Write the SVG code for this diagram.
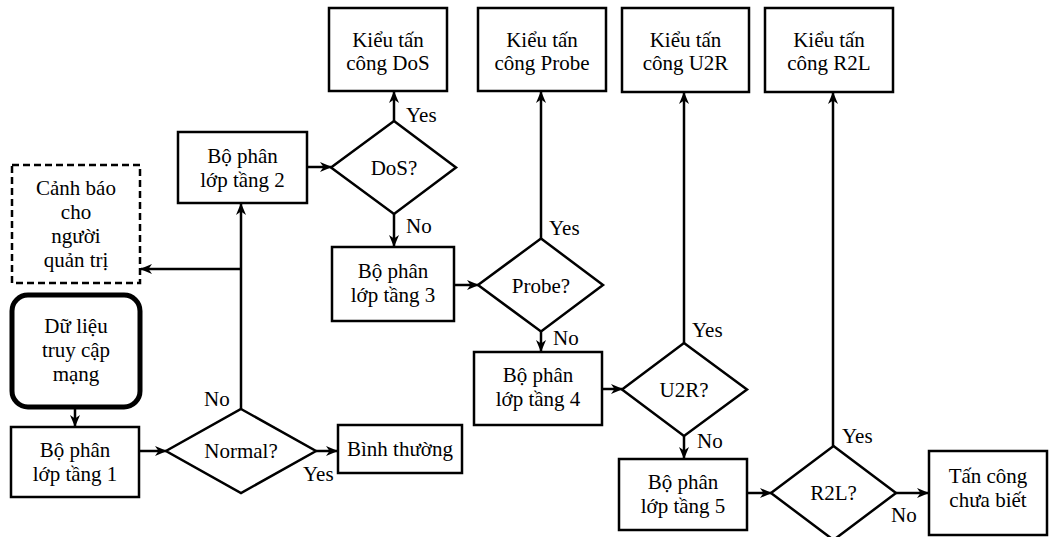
<svg xmlns="http://www.w3.org/2000/svg" width="1049" height="537" viewBox="0 0 1049 537">
<style>
text{font-size:21px;fill:#000}
.c{text-anchor:middle}
.box{fill:#fff;stroke:#000;stroke-width:2.5}
.dash{fill:#fff;stroke:#000;stroke-width:2.5;stroke-dasharray:7,4}
.start{fill:#fff;stroke:#000;stroke-width:5}
.dia{fill:#fff;stroke:#000;stroke-width:2.5;stroke-linejoin:miter}
.ln{fill:none;stroke:#000;stroke-width:2.5}
.arr{marker-end:url(#ah)}
</style>
<defs>
<marker id="ah" markerWidth="12" markerHeight="10" refX="11" refY="5" orient="auto" markerUnits="userSpaceOnUse">
<path d="M0,0 L12,5 L0,10 L3.5,5 Z" fill="#000"/>
</marker>
</defs>
<rect width="1049" height="537" fill="#fff"/>
<g font-family="Liberation Serif, DejaVu Serif, serif">
<g id="connectors">
<path class="ln arr" d="M75,408 L75,426"/>
<path class="ln arr" d="M139,451 L166,451"/>
<path class="ln arr" d="M241,409 L241,204"/>
<path class="ln arr" d="M241,269 L141,269"/>
<path class="ln arr" d="M316,451 L337,451"/>
<path class="ln arr" d="M307,167 L331,167"/>
<path class="ln arr" d="M394,121 L394,92"/>
<path class="ln arr" d="M394,214 L394,246"/>
<path class="ln arr" d="M454,285 L478,285"/>
<path class="ln arr" d="M541,239 L541,92"/>
<path class="ln arr" d="M541,331 L541,351"/>
<path class="ln arr" d="M602,389 L622,389"/>
<path class="ln arr" d="M684,343 L684,93"/>
<path class="ln arr" d="M684,436 L684,458"/>
<path class="ln arr" d="M747,493 L771,493"/>
<path class="ln arr" d="M833,446 L833,93"/>
<path class="ln arr" d="M896,493 L928,493"/>
<text x="204" y="406">No</text>
<text x="303" y="481">Yes</text>
<text x="406" y="122">Yes</text>
<text x="406" y="233">No</text>
<text x="549" y="235">Yes</text>
<text x="553" y="345">No</text>
<text x="692" y="337">Yes</text>
<text x="697" y="448">No</text>
<text x="842" y="443">Yes</text>
<text x="891" y="522">No</text>
</g>
<g id="alert">
<rect class="dash" x="12" y="165" width="128" height="118"/>
<text class="c" x="76" y="195">Cảnh báo</text>
<text class="c" x="76" y="219">cho</text>
<text class="c" x="76" y="243">người</text>
<text class="c" x="76" y="267">quản trị</text>
</g>
<g id="data">
<rect class="start" x="12" y="295" width="128" height="112" rx="16"/>
<text class="c" x="76" y="333">Dữ liệu</text>
<text class="c" x="76" y="357">truy cập</text>
<text class="c" x="76" y="381">mạng</text>
</g>
<g id="clf1">
<rect class="box" x="11" y="427" width="128" height="70"/>
<text class="c" x="75" y="457">Bộ phân</text>
<text class="c" x="75" y="481">lớp tầng 1</text>
</g>
<g id="normal">
<polygon class="dia" points="241,409 316,451 241,493 166,451"/>
<text class="c" x="241" y="458">Normal?</text>
</g>
<g id="binhthuong">
<rect class="box" x="338" y="425" width="124" height="48"/>
<text class="c" x="400" y="456">Bình thường</text>
</g>
<g id="clf2">
<rect class="box" x="178" y="132" width="129" height="71"/>
<text class="c" x="242.5" y="163">Bộ phân</text>
<text class="c" x="242.5" y="187">lớp tầng 2</text>
</g>
<g id="dos">
<polygon class="dia" points="394,121 456,167.5 394,214 331,167.5"/>
<text class="c" x="394" y="175">DoS?</text>
</g>
<g id="dosbox">
<rect class="box" x="329" y="8" width="118" height="83"/>
<text class="c" x="388" y="47">Kiểu tấn</text>
<text class="c" x="388" y="70">công DoS</text>
</g>
<g id="clf3">
<rect class="box" x="332" y="247" width="122" height="74"/>
<text class="c" x="393" y="278">Bộ phân</text>
<text class="c" x="393" y="302">lớp tầng 3</text>
</g>
<g id="probe">
<polygon class="dia" points="541,238.5 603,285 541,331.5 478,285"/>
<text class="c" x="541" y="293">Probe?</text>
</g>
<g id="probebox">
<rect class="box" x="478" y="8" width="128" height="83"/>
<text class="c" x="542" y="47">Kiểu tấn</text>
<text class="c" x="542" y="70">công Probe</text>
</g>
<g id="clf4">
<rect class="box" x="474" y="352" width="128" height="73"/>
<text class="c" x="538" y="382">Bộ phân</text>
<text class="c" x="538" y="406">lớp tầng 4</text>
</g>
<g id="u2r">
<polygon class="dia" points="684,343 747,389.5 684,436 622,389.5"/>
<text class="c" x="684" y="397">U2R?</text>
</g>
<g id="u2rbox">
<rect class="box" x="622" y="8" width="127" height="84"/>
<text class="c" x="685.5" y="47">Kiểu tấn</text>
<text class="c" x="685.5" y="70">công U2R</text>
</g>
<g id="clf5">
<rect class="box" x="619" y="459" width="128" height="71"/>
<text class="c" x="683" y="489">Bộ phân</text>
<text class="c" x="683" y="513">lớp tầng 5</text>
</g>
<g id="r2l">
<polygon class="dia" points="833.5,446 896,493 833.5,540 771,493"/>
<text class="c" x="833.5" y="500">R2L?</text>
</g>
<g id="r2lbox">
<rect class="box" x="765" y="8" width="128" height="84"/>
<text class="c" x="829" y="47">Kiểu tấn</text>
<text class="c" x="829" y="70">công R2L</text>
</g>
<g id="unknown">
<rect class="box" x="929" y="451" width="118" height="84"/>
<text class="c" x="988" y="483">Tấn công</text>
<text class="c" x="988" y="507">chưa biết</text>
</g>
</g>
</svg>
